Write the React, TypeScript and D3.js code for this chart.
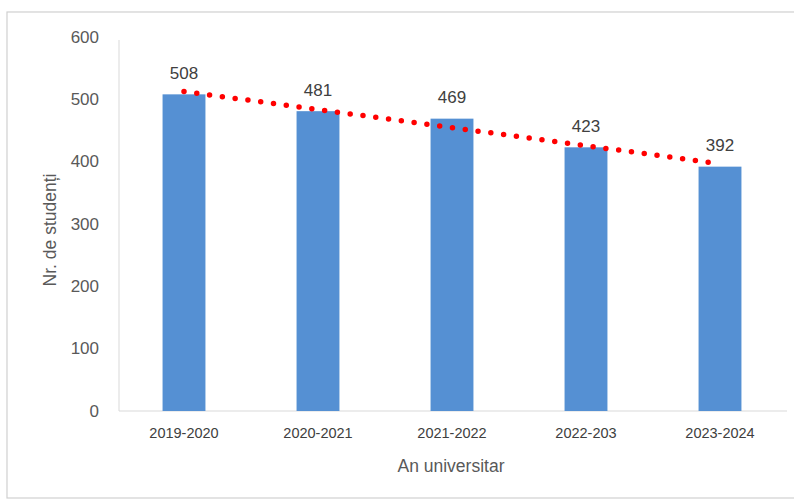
import React from "react";
import * as d3 from "d3";

const categories = ["2019-2020", "2020-2021", "2021-2022", "2022-203", "2023-2024"];
const values = [508, 481, 469, 423, 392];
const yTicks = [0, 100, 200, 300, 400, 500, 600];

const W = 794;
const H = 499;
const FONT = "'Liberation Sans', Arial, sans-serif";

export default function App() {
  const x = d3.scaleBand<string>().domain(categories).range([117, 787]).paddingInner(0.68).paddingOuter(0.34);
  const y = d3.scaleLinear().domain([0, 600]).range([411, 37]);

  // linear trendline (least squares)
  const n = values.length;
  const xs = values.map((_, i) => i);
  const mx = d3.mean(xs)!;
  const my = d3.mean(values)!;
  const slope = d3.sum(xs.map((xi, i) => (xi - mx) * (values[i] - my))) / d3.sum(xs.map((xi) => (xi - mx) ** 2));
  const intercept = my - slope * mx;
  const cx = (i: number) => x(categories[i])! + x.bandwidth() / 2;
  const trend = d3.line<number>()
    .x((i) => cx(i))
    .y((i) => y(intercept + slope * i));
  const trendPath = trend([0, n - 1]);

  return (
    <svg width={W} height={H} style={{ position: "absolute", left: 0, top: 0, background: "#fff" }}>
      <rect x={7} y={12} width={800} height={486} fill="#fff" stroke="#d0d0d0" strokeWidth={1.2} />
      {/* axes */}
      <line x1={119} x2={119} y1={40} y2={411} stroke="#d9d9d9" strokeWidth={1} />
      <line x1={119} x2={787} y1={411} y2={411} stroke="#d9d9d9" strokeWidth={1.2} />
      {yTicks.map((t) => (
        <text key={t} x={99} y={y(t)} textAnchor="end" dominantBaseline="central" fontFamily={FONT} fontSize={17} fill="#595959">
          {t}
        </text>
      ))}
      {categories.map((c, i) => (
        <g key={c}>
          <rect x={x(c)} y={y(values[i])} width={x.bandwidth()} height={y(0) - y(values[i])} fill="#5590d3" />
          <text x={cx(i)} y={y(values[i]) - 21} textAnchor="middle" dominantBaseline="central" fontFamily={FONT} fontSize={17} fill="#404040">
            {values[i]}
          </text>
          <text x={cx(i)} y={433} textAnchor="middle" dominantBaseline="central" fontFamily={FONT} fontSize={14.5} fill="#404040">
            {c}
          </text>
        </g>
      ))}
      <path d={trendPath!} fill="none" stroke="#ff0000" strokeWidth={5.5} strokeLinecap="round" strokeDasharray="0 12.9" />
      <text x={451} y={466} textAnchor="middle" dominantBaseline="central" fontFamily={FONT} fontSize={17.5} fill="#595959">
        An universitar
      </text>
      <text transform={`translate(50,230) rotate(-90)`} textAnchor="middle" dominantBaseline="central" fontFamily={FONT} fontSize={17.5} fill="#595959">
        Nr. de studenți
      </text>
    </svg>
  );
}
